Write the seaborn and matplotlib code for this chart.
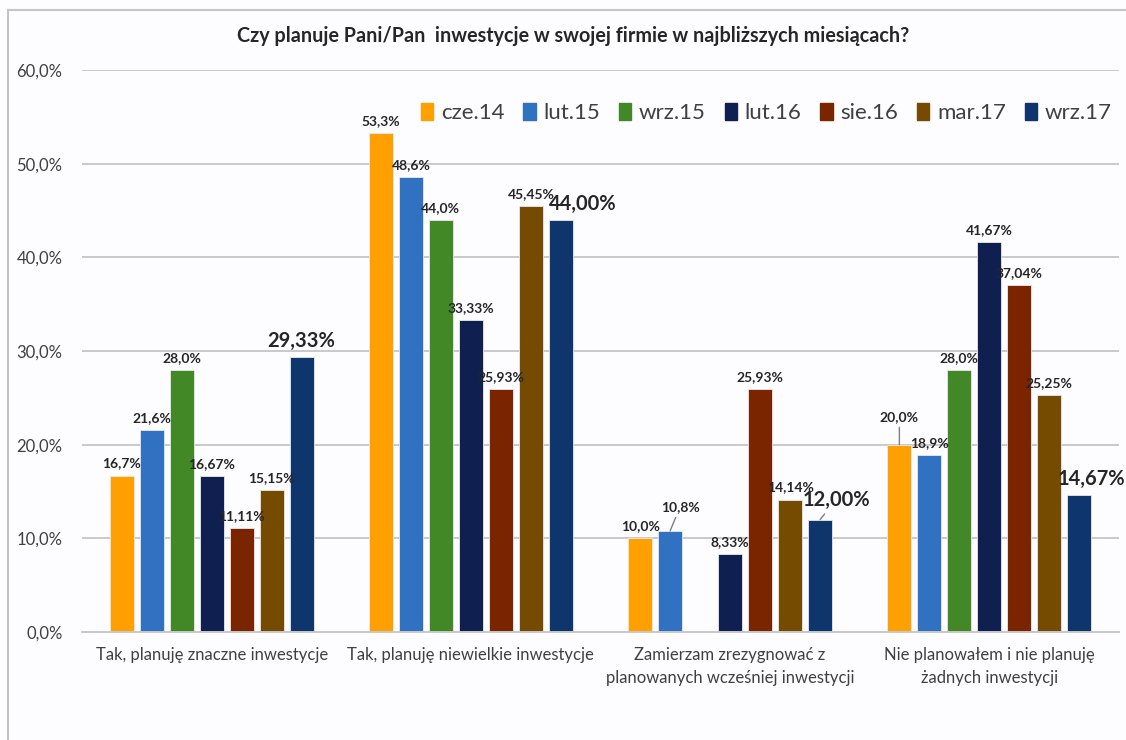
import matplotlib
matplotlib.use('Agg')
import matplotlib.pyplot as plt
import matplotlib.patches as mpatches
import numpy as np
import pandas as pd
import seaborn as sns

# Data (values in %)
categories = ['Tak, planuję znaczne inwestycje',
              'Tak, planuję niewielkie inwestycje',
              'Zamierzam zrezygnować z\nplanowanych wcześniej inwestycji',
              'Nie planowałem i nie planuję\nżadnych inwestycji']
periods = ['cze.14', 'lut.15', 'wrz.15', 'lut.16', 'sie.16', 'mar.17', 'wrz.17']
cze14 = [16.7, 53.3, 10.0, 20.0]
lut15 = [21.6, 48.6, 10.8, 18.9]
wrz15 = [28.0, 44.0, np.nan, 28.0]
lut16 = [16.67, 33.33, 8.33, 41.67]
sie16 = [11.11, 25.93, 25.93, 37.04]
mar17 = [15.15, 45.45, 14.14, 25.25]
wrz17 = [29.33, 44.00, 12.00, 14.67]
decimals = [1, 1, 1, 2, 2, 2, 2]
colors = ['#FF9F00', '#3071C1', '#438826', '#0F1F4F', '#7A2400', '#744B00', '#0E356C']
yticks = [0, 10, 20, 30, 40, 50, 60]

series = [cze14, lut15, wrz15, lut16, sie16, mar17, wrz17]
rows = []
for p, vals in zip(periods, series):
    for c, v in zip(categories, vals):
        rows.append({'category': c, 'period': p, 'value': v})
df = pd.DataFrame(rows)

# label tweaks (pixels) where the original moved labels around
label_shift = {
    ('wrz.17', 1): (22, 0, False),
    ('lut.15', 2): (10, 12, True),
    ('wrz.17', 2): (16, 4, True),
    ('cze.14', 3): (0, 16, True),
    ('wrz.17', 3): (12, 0, False),
}

sns.set_style('white')
plt.rcParams['font.family'] = ['Lato', 'DejaVu Sans']

fig = plt.figure(figsize=(11.26, 7.40), dpi=100)
fig.patch.set_facecolor('#FDFCFE')
ax = fig.add_axes([82 / 1126, 1 - 632 / 740, (1119 - 82) / 1126, (632 - 70) / 740])
ax.set_facecolor('#FDFCFE')

sns.barplot(data=df, x='category', y='value', hue='period', hue_order=periods,
            palette=colors, saturation=1, width=0.81, gap=0.2, ax=ax, legend=False,
            edgecolor='#e8e8f0', linewidth=0.6)

ax.set_ylim(0, 60)
ax.set_xlim(-0.5, 3.5)
ax.set_yticks(yticks)
ax.set_yticklabels([f'{t:.1f}%'.replace('.', ',') for t in yticks])
ax.yaxis.grid(True, color='#C9C9C9', linewidth=1.4)
ax.set_axisbelow(True)
for s in ['top', 'right', 'left']:
    ax.spines[s].set_visible(False)
ax.spines['bottom'].set_color('#C9C9C9')
ax.spines['bottom'].set_linewidth(1.4)
ax.tick_params(axis='y', length=0, pad=14, labelsize=12, labelcolor='#404040')
ax.tick_params(axis='x', length=0, pad=11, labelsize=12, labelcolor='#404040')
for lab in ax.get_xticklabels():
    lab.set_linespacing(1.5)
ax.set_xlabel('')
ax.set_ylabel('')

# Data labels
for i, (p, cont) in enumerate(zip(periods, ax.containers)):
    big = p == 'wrz.17'
    for bar in cont:
        h = bar.get_height()
        if np.isnan(h):
            continue
        xc = bar.get_x() + bar.get_width() / 2
        cat = int(round(xc))
        dx, dy, leader = label_shift.get((p, cat), (0, 0, False))
        txt = f'{h:.{decimals[i]}f}%'.replace('.', ',')
        kw = {}
        if leader:
            kw['arrowprops'] = dict(arrowstyle='-', color='#7f7f7f', lw=1,
                                    shrinkA=1, shrinkB=0)
        ax.annotate(txt, xy=(xc, h), xytext=(dx, 6 + dy), textcoords='offset pixels',
                    ha='center', va='bottom', fontweight='bold',
                    fontsize=14.5 if big else 10, color='#262626', **kw)

fig.text(573 / 1126, 1 - 36 / 740,
         'Czy planuje Pani/Pan  inwestycje w swojej firmie w najbliższych miesiącach?',
         ha='center', va='center', fontsize=14.2, fontweight='bold', color='#262626')

handles = [mpatches.Patch(color=c, label=p) for c, p in zip(colors, periods)]
fig.legend(handles=handles, loc='center right', bbox_to_anchor=(1112 / 1126, 1 - 113 / 740),
           ncol=7, frameon=False, fontsize=16, handlelength=0.55, handleheight=0.8,
           handletextpad=0.35, columnspacing=0.85, labelcolor='#404040',
           borderpad=0, borderaxespad=0)

# chart border (only the top and left edges are inside the picture)
fig.patches.append(mpatches.Rectangle((8 / 1126, -0.1), 1.1, 1.1 - 10 / 740,
                                      transform=fig.transFigure, fill=False,
                                      edgecolor='#C4C4C4', linewidth=1.5))

fig.savefig('out.png', dpi=100, facecolor=fig.get_facecolor())
